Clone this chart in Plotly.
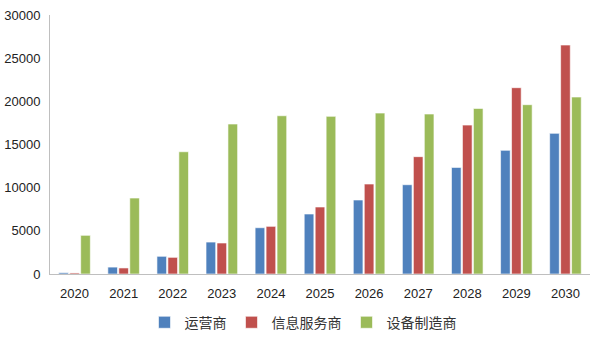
import plotly.graph_objects as go

years = ["2020", "2021", "2022", "2023", "2024", "2025", "2026", "2027", "2028", "2029", "2030"]
operators = [150, 800, 2050, 3700, 5360, 6950, 8570, 10340, 12350, 14320, 16290]
info_services = [120, 700, 1930, 3590, 5520, 7760, 10420, 13590, 17250, 21580, 26520]
equipment = [4480, 8800, 14160, 17370, 18330, 18260, 18640, 18530, 19180, 19610, 20500]
names = ["运营商", "信息服务商", "设备制造商"]
colors = ["#4F81BD", "#C0504D", "#9BBB59"]

fig = go.Figure()
for name, vals, c in zip(names, [operators, info_services, equipment], colors):
    fig.add_trace(go.Bar(x=years, y=vals, name=name, marker=dict(color=c, line=dict(color="rgba(255,255,255,0.6)", width=1))))

fig.update_layout(
    width=600, height=344,
    margin=dict(l=50, r=10, t=15, b=70, autoexpand=False),
    plot_bgcolor="white", paper_bgcolor="white",
    barmode="group", bargap=0.33, bargroupgap=0.12,
    font=dict(family="Liberation Sans, Arial", size=13, color="#222"),
    xaxis=dict(showline=True, linecolor="#BFBFBF", linewidth=1, ticks="", showgrid=False,
               tickfont=dict(size=13), ticklabelstandoff=7),
    yaxis=dict(range=[0, 30000], dtick=5000, tickformat="d", showline=True, linecolor="#BFBFBF", linewidth=1,
               showgrid=False, ticks="", zeroline=False, tickfont=dict(size=13), ticklabelstandoff=6),
    legend=dict(orientation="h", x=0.505, xref="container", xanchor="center",
                y=0.062, yref="container", yanchor="middle",
                font=dict(family="Noto Sans CJK SC", size=14, color="#333"),
                itemwidth=30, tracegroupgap=0, traceorder="normal"),
)
fig.write_html("out.html")
